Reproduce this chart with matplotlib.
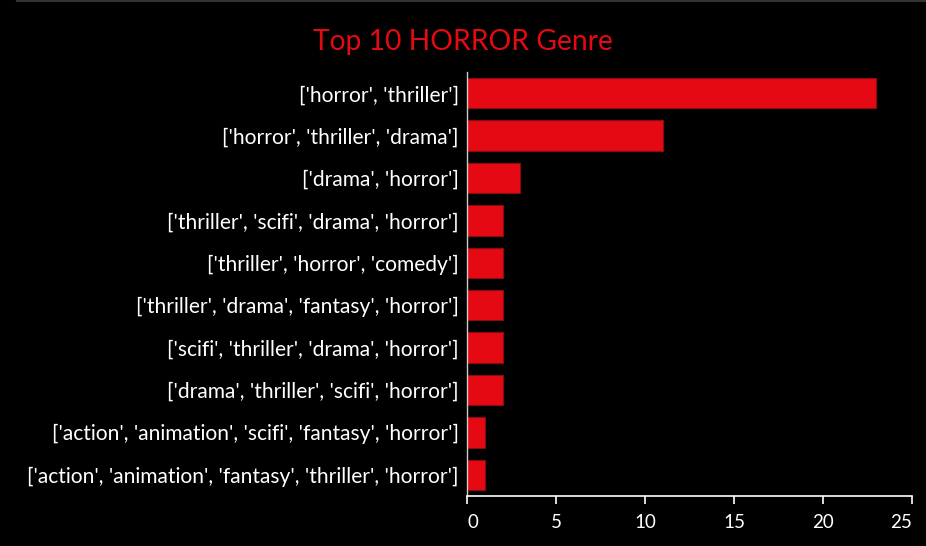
import matplotlib
matplotlib.use("Agg")
import matplotlib.pyplot as plt
from matplotlib.lines import Line2D

genres = [
    "['horror', 'thriller']",
    "['horror', 'thriller', 'drama']",
    "['drama', 'horror']",
    "['thriller', 'scifi', 'drama', 'horror']",
    "['thriller', 'horror', 'comedy']",
    "['thriller', 'drama', 'fantasy', 'horror']",
    "['scifi', 'thriller', 'drama', 'horror']",
    "['drama', 'thriller', 'scifi', 'horror']",
    "['action', 'animation', 'scifi', 'fantasy', 'horror']",
    "['action', 'animation', 'fantasy', 'thriller', 'horror']",
]
counts = [23, 11, 3, 2, 2, 2, 2, 2, 1, 1]
xticks = [0, 5, 10, 15, 20, 25]

plt.rcParams['font.family'] = ['Lato', 'DejaVu Sans']

fig = plt.figure(figsize=(9.26, 5.46), dpi=100, facecolor='black')
ax = fig.add_axes([467/926, 1 - 496/546, (912 - 467)/926, (496 - 72)/546])
ax.set_facecolor('black')

ypos = list(range(len(genres)))
ax.barh(ypos, counts, height=0.72, color='#e50914', edgecolor='#8a0a0e', linewidth=0.8)
ax.set_ylim(len(genres) - 0.5, -0.5)
ax.set_xlim(0, 25)
ax.set_yticks(ypos)
ax.set_yticklabels(genres, color='white', fontsize=15.1)
ax.set_xticks(xticks)
ax.set_xticklabels([str(t) for t in xticks], color='white', fontsize=13.5)
ax.tick_params(axis='y', length=0, pad=6)
ax.tick_params(axis='x', colors='white', length=6, width=1.2, labelcolor='white', pad=7)
xt = ax.get_xticklabels()
xt[0].set_ha('left')
xt[-1].set_ha('right')
for s in ['top', 'right']:
    ax.spines[s].set_visible(False)
ax.spines['left'].set_color('#cccccc')
ax.spines['bottom'].set_color('white')
ax.spines['left'].set_linewidth(1.0)
ax.spines['bottom'].set_linewidth(1.2)

fig.text(0.5, 1 - 42/546, 'Top 10 HORROR Genre', color='#e50914', fontsize=20.3,
         ha='center', va='center')
fig.add_artist(Line2D([17/926, 1], [0.999, 0.999], transform=fig.transFigure,
                      color='#333333', linewidth=1.5))

fig.savefig('out.png', dpi=100, facecolor='black')
